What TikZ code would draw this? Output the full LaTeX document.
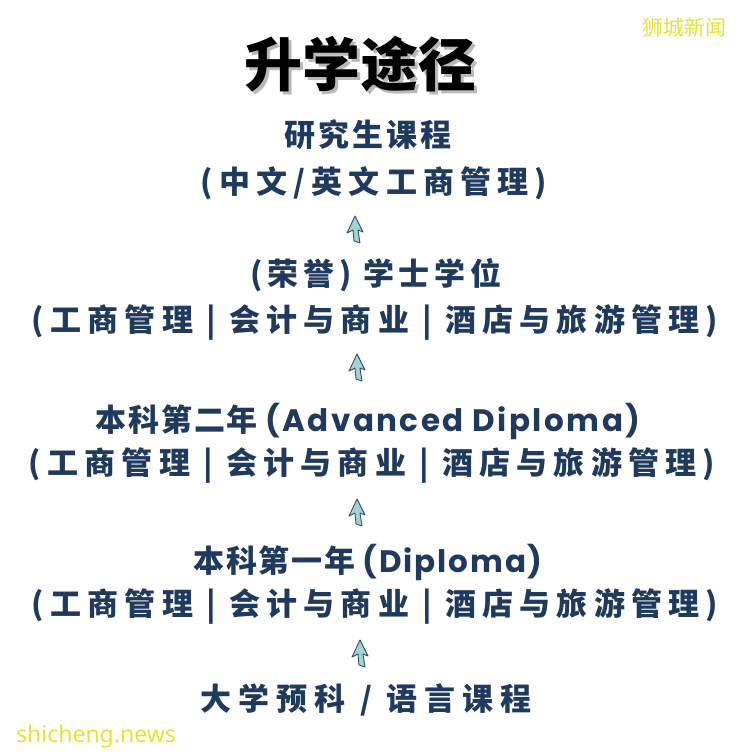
\documentclass[tikz,border=0pt]{standalone}
\usepackage{fontspec}
\setmainfont{Noto Sans CJK SC}
\newfontfamily\wmfont{Noto Sans}
\newfontfamily\latfont{Poppins}
\definecolor{navy}{RGB}{32,58,94}
\definecolor{wmyellow}{RGB}{232,226,52}
\definecolor{arrowfill}{RGB}{160,212,212}
\definecolor{arrowedge}{RGB}{60,80,90}
\newcommand{\lsp}[2]{{\addfontfeatures{LetterSpace=#1}#2}}
\newcommand{\lat}[2]{{\latfont\addfontfeatures{LetterSpace=#1}#2}}
\newcommand{\shadowtext}[1]{\makebox[0pt][l]{\hspace{3pt}\raisebox{-3pt}{\textcolor{gray!55}{#1}}}#1}
\tikzset{
  line/.style={inner sep=0pt, text=navy, font=\fontsize{31}{36}\selectfont\bfseries},
  titletext/.style={inner sep=0pt, font=\fontsize{58}{62}\selectfont\bfseries},
  upicon/.pic={
    \path[fill=arrowfill, draw=arrowedge, line width=0.9pt, line join=round]
      (0,-14) -- (8,2) -- (3,0) -- (5,13) -- (-1,11) -- (-2,0) -- (-8,3) -- cycle;
  }
}
\begin{document}
\begin{tikzpicture}[x=1pt,y=-1pt]
\path[use as bounding box, fill=white] (0,0) rectangle (750,756);

% title with drop shadow
\node[titletext, text=black] (title) at (360,66) {\shadowtext{升学途径}};

% text lines
\node[line] (t1) at (368,135) {\lsp{10}{研究生课程}};
\node[line] (t2) at (374,183) {\lsp{20}{(中文/英文工商管理)}};
\node[line] (t3) at (376,275) {\lsp{15}{(荣誉) 学士学位}};
\node[line] (t4) at (375,322) {\lsp{20}{(工商管理 | 会计与商业 | 酒店与旅游管理)}};
\node[line] (t5) at (368,421) {\lsp{6}{本科第二年} \lat{8}{(Advanced Diploma)}};
\node[line] (t6) at (372,465) {\lsp{20}{(工商管理 | 会计与商业 | 酒店与旅游管理)}};
\node[line] (t7) at (368,562) {\lsp{6}{本科第一年} \lat{6}{(Diploma)}};
\node[line] (t8) at (375,606) {\lsp{20}{(工商管理 | 会计与商业 | 酒店与旅游管理)}};
\node[line] (t9) at (366,700) {\lsp{23}{大学预科 / 语言课程}};

% arrows between levels
\coordinate (a1) at (355,230);
\coordinate (a2) at (357,368);
\coordinate (a3) at (357,513);
\coordinate (a4) at (360,654);
\pic at (a1) {upicon};
\pic at (a2) {upicon};
\pic at (a3) {upicon};
\pic at (a4) {upicon};

% watermarks
\node[inner sep=0pt, text=wmyellow, font=\fontsize{21}{24}\selectfont] (wm1) at (684,28) {狮城新闻};
\node[inner sep=0pt, text=wmyellow, font=\wmfont\fontsize{23}{26}\selectfont] (wm2) at (96,737) {shicheng.news};
\end{tikzpicture}
\end{document}
